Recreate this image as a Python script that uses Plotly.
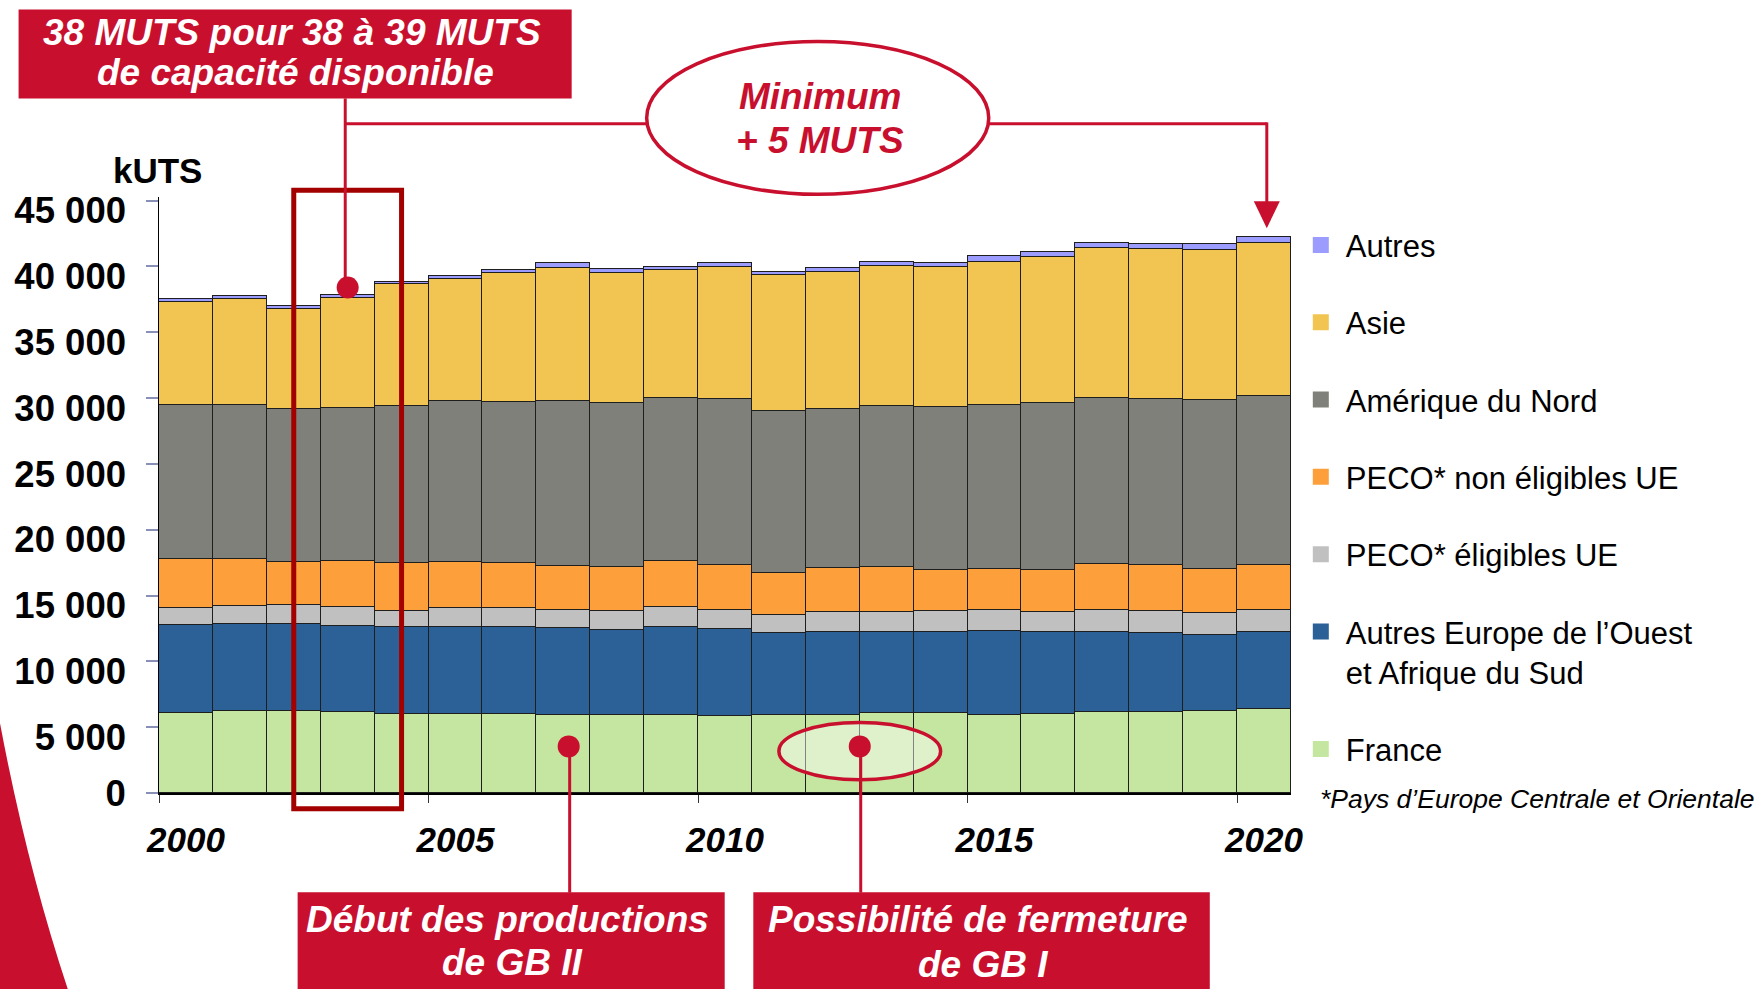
import plotly.graph_objects as go

# ---------------- data (kUTS) ----------------
years = list(range(2000, 2021))
france = [6080, 6200, 6200, 6130, 6030, 6000, 6030, 5950, 5930, 5930, 5850,
          5900, 5900, 6050, 6050, 5950, 6000, 6130, 6130, 6230, 6380]
autres_europe = [6710, 6640, 6640, 6560, 6560, 6590, 6590, 6590, 6480, 6690, 6580,
                 6260, 6310, 6210, 6160, 6360, 6240, 6110, 6030, 5800, 5830]
peco_eligibles = [1270, 1340, 1420, 1450, 1270, 1470, 1440, 1340, 1420, 1520, 1500,
                  1370, 1520, 1470, 1600, 1570, 1520, 1640, 1640, 1670, 1700]
peco_non_eligibles = [3700, 3580, 3300, 3460, 3620, 3520, 3420, 3400, 3350, 3470, 3420,
                      3190, 3370, 3400, 3120, 3150, 3160, 3500, 3550, 3320, 3440]
amerique_nord = [11680, 11680, 11620, 11660, 11950, 12180, 12240, 12490, 12460, 12420, 12590,
                 12280, 12080, 12290, 12420, 12410, 12720, 12650, 12590, 12810, 12790]
asie = [7880, 8100, 7600, 8360, 9220, 9300, 9800, 10140, 9830, 9700, 10030,
        10320, 10410, 10640, 10640, 10920, 11040, 11400, 11400, 11400, 11600]
autres = [200, 200, 230, 200, 150, 200, 180, 380, 300, 260, 270,
          230, 250, 270, 270, 430, 400, 350, 350, 460, 460]

series_names = ["France", "Autres Europe de l’Ouest<br>et Afrique du Sud", "PECO* éligibles UE",
                "PECO* non éligibles UE", "Amérique du Nord", "Asie", "Autres"]
series_values = [france, autres_europe, peco_eligibles, peco_non_eligibles, amerique_nord, asie, autres]
series_colors = ["#C5E6A0", "#2C6197", "#C0C0C0", "#FDA03B", "#80807A", "#F2C552", "#9C9CFF"]

y_tickvals = [0, 5000, 10000, 15000, 20000, 25000, 30000, 35000, 40000, 45000]
y_ticktext = ["0", "5 000", "10 000", "15 000", "20 000", "25 000", "30 000", "35 000", "40 000", "45 000"]
x_label_years = [2000, 2005, 2010, 2015, 2020]
x_label_text = ["2000", "2005", "2010", "2015", "2020"]

# ---------------- layout geometry (pixels) ----------------
FIG_W, FIG_H = 1758, 989
PL, PR, PT, PB = 159.4, 1291.2, 196.7, 793.3
PW, PH = PR - PL, PB - PT
Y_MAX = 45270
UNITS_PER_PX = Y_MAX / PH
LABEL_DROP_PX = 10          # y tick labels sit slightly below their ticks in the original


def px(X):
    return (X - PL) / PW


def py(Y):
    return (PB - Y) / PH


RED = "#C8102E"
DARKRED = "#A30000"
FONT = "Liberation Sans, Arial, sans-serif"

fig = go.Figure()

for name, vals, col in zip(series_names, series_values, series_colors):
    fig.add_trace(go.Bar(
        x=years, y=vals, name=name, width=1.0,
        marker=dict(color=col, line=dict(color="#1e1e1e", width=1)),
        showlegend=False,
    ))

# empty trace so the label-only overlay axis exists
fig.add_trace(go.Scatter(x=[None], y=[None], yaxis="y2", showlegend=False, hoverinfo="skip"))

# legend entries (top to bottom)
for i in range(len(series_names) - 1, -1, -1):
    fig.add_trace(go.Scatter(
        x=[None], y=[None], mode="markers", name=series_names[i],
        legendgroup=f"g{i}",
        marker=dict(symbol="square", size=16, color=series_colors[i], line=dict(width=0)),
    ))

shapes = []
annotations = []

# red decorative wedge at left
shapes.append(dict(type="path", xref="paper", yref="paper",
                   path=f"M {px(-3)},{py(705)} Q {px(25)},{py(860)} {px(69)},{py(992)} L {px(-3)},{py(992)} Z",
                   fillcolor=RED, line=dict(width=0)))

# dark red frame around 2002-2004
shapes.append(dict(type="rect", xref="x", yref="paper", x0=2002, x1=2004,
                   y0=py(809), y1=py(190), line=dict(color=DARKRED, width=5),
                   fillcolor="rgba(0,0,0,0)"))

# France ellipse (2011-2014)
shapes.append(dict(type="circle", xref="x", yref="y", x0=2011, x1=2014, y0=1000, y1=5350,
                   line=dict(color=RED, width=3.5), fillcolor="rgba(255,255,255,0.45)"))


def hline(x0, x1, y):
    shapes.append(dict(type="line", xref="paper", yref="paper", x0=px(x0), x1=px(x1),
                       y0=py(y), y1=py(y), line=dict(color=RED, width=3)))


def vline(x, y0, y1):
    shapes.append(dict(type="line", xref="paper", yref="paper", x0=px(x), x1=px(x),
                       y0=py(y0), y1=py(y1), line=dict(color=RED, width=3)))


def rect(x0, x1, y0, y1):
    shapes.append(dict(type="rect", xref="paper", yref="paper", x0=px(x0), x1=px(x1),
                       y0=py(y1), y1=py(y0), fillcolor=RED, line=dict(width=0)))


def dot(xd, yd):
    shapes.append(dict(type="circle", xref="x", yref="y", xsizemode="pixel", ysizemode="pixel",
                       xanchor=xd, yanchor=yd, x0=-11, x1=11, y0=-11, y1=11,
                       fillcolor=RED, line=dict(width=0)))


def txt(x, y, s, color="white", size=37):
    annotations.append(dict(xref="paper", yref="paper", x=px(x), y=py(y), text=f"<b><i>{s}</i></b>",
                            showarrow=False, xanchor="center", yanchor="middle",
                            font=dict(family=FONT, size=size, color=color)))


# top-left box and connectors
rect(19, 572, 9, 98)
vline(345.6, 98, 288)
hline(345.6, 648, 123.5)
hline(988, 1267, 123.5)
vline(1267, 122, 205)
shapes.append(dict(type="path", xref="paper", yref="paper",
                   path=f"M {px(1254)},{py(201)} L {px(1280)},{py(201)} L {px(1267)},{py(228)} Z",
                   fillcolor=RED, line=dict(width=0)))
shapes.append(dict(type="circle", xref="paper", yref="paper", x0=px(647), x1=px(989),
                   y0=py(194), y1=py(41), fillcolor="white", line=dict(color=RED, width=3.5)))
dot(2003, 38400)

# bottom boxes and connectors
vline(570, 747, 893)
vline(861, 747, 893)
rect(298, 725, 892.7, 995)
rect(753.6, 1210, 892.7, 995)
dot(2007.1, 3540)
dot(2012.5, 3540)

txt(292, 32, "38 MUTS pour 38 à 39 MUTS")
txt(296, 72.5, "de capacité disponible")
txt(820, 96, "Minimum", color=RED)
txt(820, 140, "+ 5 MUTS", color=RED)
txt(508, 920, "Début des productions")
txt(513, 963, "de GB II")
txt(978, 920, "Possibilité de fermeture")
txt(983, 965, "de GB I")

annotations.append(dict(xref="paper", yref="paper", x=px(158), y=py(170), text="<b>kUTS</b>",
                        showarrow=False, xanchor="center", yanchor="middle",
                        font=dict(family=FONT, size=35, color="black")))
annotations.append(dict(xref="paper", yref="paper", x=px(1318), y=py(799),
                        text="<i>*Pays d’Europe Centrale et Orientale</i>",
                        showarrow=False, xanchor="left", yanchor="middle",
                        font=dict(family=FONT, size=26.5, color="black")))

label_shift = LABEL_DROP_PX * UNITS_PER_PX
tick_font = dict(family=FONT, size=36.5, color="black", weight="bold")

fig.update_layout(
    width=FIG_W, height=FIG_H, autosize=False,
    margin=dict(l=PL, r=FIG_W - PR, t=PT, b=FIG_H - PB, pad=0),
    paper_bgcolor="white", plot_bgcolor="white",
    barmode="stack", bargap=0,
    font=dict(family=FONT, color="black"),
    showlegend=True, hovermode=False,
    legend=dict(x=px(1296), y=py(218), xanchor="left", yanchor="top",
                font=dict(family=FONT, size=31, color="black"),
                tracegroupgap=34, itemwidth=40, valign="top", itemsizing="trace",
                bgcolor="rgba(0,0,0,0)", borderwidth=0),
    shapes=shapes, annotations=annotations,
    xaxis=dict(range=[1999.5, 2020.5], showgrid=False, zeroline=False,
               showline=True, linecolor="black", linewidth=1.5,
               tickmode="array", tickvals=x_label_years, ticktext=x_label_text,
               ticks="", ticklabelstandoff=15,
               tickfont=dict(family=FONT, size=35, color="black", weight="bold", style="italic"),
               minor=dict(tickmode="array", tickvals=[v - 0.5 for v in x_label_years],
                          ticks="outside", ticklen=8, tickcolor="#333333", tickwidth=1, showgrid=False)),
    # main axis: tick marks (and the "0" label)
    yaxis=dict(range=[0, Y_MAX], showgrid=False, zeroline=False,
               showline=True, linecolor="black", linewidth=1,
               tickmode="array", tickvals=y_tickvals,
               ticktext=[t if v == 0 else "" for v, t in zip(y_tickvals, y_ticktext)],
               ticks="outside", ticklen=12, tickcolor="#8890B8", tickwidth=1.5,
               ticklabelstandoff=13, tickfont=tick_font),
    # overlay axis: remaining labels, drawn slightly below their ticks
    yaxis2=dict(overlaying="y", side="left", anchor="x",
                range=[label_shift, Y_MAX + label_shift], showgrid=False, zeroline=False,
                showline=False, ticks="", tickmode="array",
                tickvals=[v for v in y_tickvals if v > 0],
                ticktext=[t for v, t in zip(y_tickvals, y_ticktext) if v > 0],
                ticklabelstandoff=32, tickfont=tick_font),
)

fig.write_html("out.html", config={"displayModeBar": False},
               post_script="document.body.style.margin='0';document.body.style.overflow='hidden';")
